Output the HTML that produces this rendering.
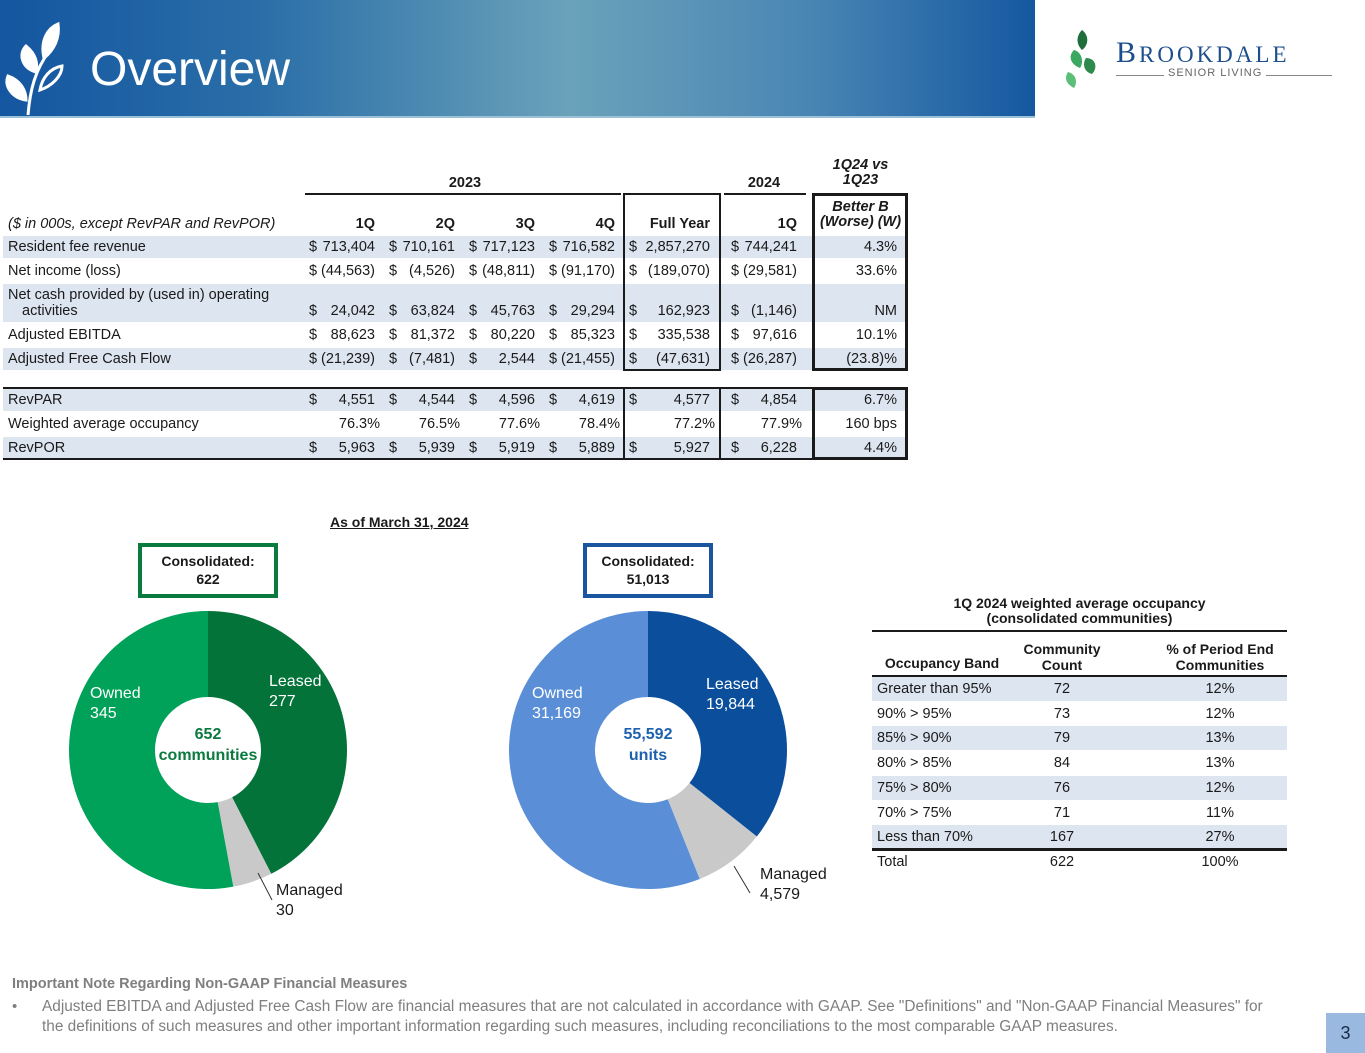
<!DOCTYPE html>
<html><head><meta charset="utf-8"><style>
*{margin:0;padding:0;box-sizing:border-box}
body{width:1365px;height:1053px;position:relative;background:#fff;font-family:"Liberation Sans",sans-serif;color:#1a1a1a;overflow:hidden;font-size:14.5px}
.a{position:absolute;white-space:nowrap}
.r{text-align:right}
.c{text-align:center}
.b{font-weight:bold}
.i{font-style:italic}
</style></head><body>
<div class="a" style="left:0;top:0;width:1035px;height:118px;background:linear-gradient(90deg,#1456a0 0%,#2a6ea8 25%,#6aa2ba 55%,#4a86b4 78%,#1558a0 100%)"></div>
<div class="a" style="left:0;top:116px;width:1035px;height:2px;background:#9cc0d8"></div>
<svg class="a" style="left:0;top:10px" width="80" height="108"><g fill="none" stroke="#fff" stroke-width="3"><path d="M28 105 C30 80 35 60 50 40"/><path d="M44 48 C40 30 48 18 58 14 C60 28 54 40 44 48Z" fill="#fff"/><path d="M36 62 C22 58 18 44 26 36 C36 44 38 54 36 62Z" fill="#fff"/><path d="M40 80 C52 76 62 66 62 56 C50 58 42 68 40 80Z"/><path d="M26 90 C12 88 4 76 8 66 C20 70 26 80 26 90Z" fill="#fff"/></g></svg>
<div class="a" style="left:90px;top:40px;font-size:48px;color:#fff;line-height:60px">Overview</div>
<svg class="a" style="left:1062px;top:28px" width="40" height="62"><g fill="#2d8a4a"><path d="M20 2 C28 8 26 18 20 22 C14 16 14 8 20 2Z" fill="#1f6e3c"/><path d="M12 22 C20 24 22 34 18 40 C8 36 6 28 12 22Z" fill="#3aa860"/><path d="M24 30 C34 30 36 40 30 46 C22 44 20 36 24 30Z" fill="#2d8a4a"/><path d="M6 44 C14 46 16 54 12 60 C4 56 2 50 6 44Z" fill="#5cbf78"/></g></svg>
<div class="a" style="left:1116px;top:36px;font-family:'Liberation Serif',serif;font-size:30px;color:#1d4e8c;letter-spacing:3px">B<span style="font-size:23px">ROOKDALE</span></div>
<div class="a" style="left:1116px;top:75px;width:216px;height:1px;background:#888"></div>
<div class="a" style="left:1164px;top:67px;background:#fff;padding:0 4px;font-size:11px;color:#666;letter-spacing:1px">SENIOR LIVING</div>

<div class="a b" style="left:330px;top:514px;font-size:14px;text-decoration:underline">As of March 31, 2024 </div>
<div class="a b c" style="left:138px;top:543px;width:140px;height:55px;border:4px solid #0a7a3e;padding-top:5px;line-height:18px;font-size:14px">Consolidated:<br>622</div>
<div class="a b c" style="left:583px;top:543px;width:130px;height:55px;border:4px solid #1a56a0;padding-top:5px;line-height:18px;font-size:14px">Consolidated:<br>51,013</div>
<svg class="a" style="left:0;top:560px" width="860" height="400" id="donuts"></svg>

<div class="a b c" style="left:872px;top:596px;width:415px;line-height:15px;font-size:14px">1Q 2024 weighted average occupancy<br>(consolidated communities)</div>

<div class="a b" style="left:12px;top:976px;font-size:14.5px;color:#7f7f7f">Important Note Regarding Non-GAAP Financial Measures</div>
<div class="a" style="left:12px;top:997px;font-size:15px;color:#7f7f7f;line-height:20px">•</div>
<div class="a" style="left:42px;top:997px;font-size:15.4px;color:#7f7f7f;line-height:20px">Adjusted EBITDA and Adjusted Free Cash Flow are financial measures that are not calculated in accordance with GAAP. See "Definitions" and "Non-GAAP Financial Measures" for<br>the definitions of such measures and other important information regarding such measures, including reconciliations to the most comparable GAAP measures.</div>
<div class="a c" style="left:1326px;top:1013px;width:39px;height:40px;background:#9ab9e0;font-size:18px;line-height:40px;color:#1a2a44">3</div>

<script>
function el(h,par){var d=document.createElement('div');d.innerHTML=h;(par||document.body).appendChild(d.firstChild);}
function box(l,t,w,h,s){el('<div class="a" style="left:'+l+'px;top:'+t+'px;width:'+w+'px;height:'+h+'px;'+s+'"></div>');}
function txt(l,t,s,cls,st){el('<div class="a '+(cls||'')+'" style="left:'+l+'px;top:'+t+'px;'+(st||'')+'">'+s+'</div>');}
[[236,22],[284,38],[348,22],[389,22],[437,22]].forEach(function(r){box(3,r[0],904,r[1],'background:#dce5f0');});
txt(300,175,'2023','b c','width:330px');
txt(724,175,'2024','b c','width:80px');
txt(813,158,'1Q24 vs<br>1Q23','b i c','width:95px;line-height:15px');
txt(813,200,'Better B<br>(Worse) (W)','b i c','width:95px;line-height:15px');
txt(8,216,'($ in 000s, except RevPAR and RevPOR)','i');
var cols=[[309,375],[389,455],[469,535],[549,615],[629,710],[731,797]];
var heads=['1Q','2Q','3Q','4Q','Full Year','1Q'];
heads.forEach(function(h,i){txt(cols[i][0],216,h,'b r','width:'+(cols[i][1]-cols[i][0])+'px');});
box(305,193,316,2,'background:#1a1a1a');
box(724,193,82,2,'background:#1a1a1a');
box(623,193,98,178,'border:2px solid #1a1a1a');
box(812,193,96,178,'border:3px solid #1a1a1a');
box(3,387,904,2,'background:#1a1a1a');
box(3,458,904,2,'background:#1a1a1a');
box(623,387,98,73,'border:2px solid #1a1a1a');
box(812,387,96,73,'border:3px solid #1a1a1a');
var rows=[
[239,'Resident fee revenue',['713,404','710,161','717,123','716,582','2,857,270','744,241'],'4.3%',1],
[263,'Net income (loss)',['(44,563)',' (4,526)','(48,811)','(91,170)','(189,070)','(29,581)'],'33.6%',1],
[303,'activities',['24,042','63,824','45,763','29,294','162,923','(1,146)'],'NM',1],
[327,'Adjusted EBITDA',['88,623','81,372','80,220','85,323','335,538','97,616'],'10.1%',1],
[351,'Adjusted Free Cash Flow',['(21,239)','(7,481)','2,544','(21,455)','(47,631)','(26,287)'],'(23.8)%',1],
[392,'RevPAR',['4,551','4,544','4,596','4,619','4,577','4,854'],'6.7%',1],
[416,'Weighted average occupancy',['76.3%','76.5%','77.6%','78.4%','77.2%','77.9%'],'160 bps',0],
[440,'RevPOR',['5,963','5,939','5,919','5,889','5,927','6,228'],'4.4%',1]];
txt(8,287,'Net cash provided by (used in) operating');
rows.forEach(function(r){
 txt(r[1]=='activities'?22:8,r[0],r[1]);
 r[2].forEach(function(v,i){
  var c=cols[i];
  if(r[4]){txt(c[0],r[0],'$');txt(c[0]+8,r[0],v,'r','width:'+(c[1]-c[0]-8)+'px');}
  else txt(c[0],r[0],v,'r','width:'+(c[1]-c[0]+5)+'px');
 });
 txt(813,r[0],r[3],'r','width:84px');
});
var o=[['Greater than 95%','72','12%'],['90% > 95%','73','12%'],['85% > 90%','79','13%'],['80% > 85%','84','13%'],['75% > 80%','76','12%'],['70% > 75%','71','11%'],['Less than 70%','167','27%'],['Total','622','100%']];
box(872,630,415,2,'background:#1a1a1a');
txt(872,655,'Occupancy Band','b c','width:140px;font-size:14px');
txt(1020,641,'Community<br>Count','b c','width:84px;font-size:14px;line-height:16px');
txt(1150,641,'% of Period End<br>Communities','b c','width:140px;font-size:14px;line-height:16px');
box(872,675,415,2,'background:#1a1a1a');
o.forEach(function(r,i){var t=677+i*24.7;
 if(i%2==0&&i<7)box(872,t,415,24,'background:#dce5f0');
 txt(877,t+4,r[0]);txt(1020,t+4,r[1],'c','width:84px');txt(1150,t+4,r[2],'c','width:140px');});
box(872,848,415,3,'background:#1a1a1a');
var ns='http://www.w3.org/2000/svg',svg=document.getElementById('donuts');
function arc(cx,cy,R,r,a0,a1,col){var p=function(a,rr){var t=(a-90)*Math.PI/180;return [cx+rr*Math.cos(t),cy+rr*Math.sin(t)];};
 var l=(a1-a0)>180?1:0,A=p(a0,R),B=p(a1,R),C=p(a1,r),D=p(a0,r);
 var e=document.createElementNS(ns,'path');e.setAttribute('d','M'+A+'A'+R+','+R+' 0 '+l+' 1 '+B+'L'+C+'A'+r+','+r+' 0 '+l+' 0 '+D+'Z');e.setAttribute('fill',col);svg.appendChild(e);}
function donut(cx,vals,cols){var tot=vals.reduce(function(a,b){return a+b}),a=0;vals.forEach(function(v,i){var b=a+v/tot*360;arc(cx,190,139,53,a,b,cols[i]);a=b;});}
donut(208,[277,30,345],['#03733a','#c9c9c9','#00a159']);
donut(648,[19844,4579,31169],['#0b4f9c','#c9c9c9','#5a8fd8']);
function ln(x1,y1,x2,y2){var e=document.createElementNS(ns,'line');e.setAttribute('x1',x1);e.setAttribute('y1',y1);e.setAttribute('x2',x2);e.setAttribute('y2',y2);e.setAttribute('stroke','#333');svg.appendChild(e);}
ln(258,313,272,340);ln(734,306,750,333);
txt(269,672,'Leased<br>277','', 'color:#fff;font-size:16px;line-height:20px');
txt(90,684,'Owned<br>345','', 'color:#fff;font-size:16px;line-height:20px');
txt(158,724,'652<br>communities','b c','color:#0a7a3e;font-size:16px;line-height:21px;width:100px');
txt(276,881,'Managed<br>30','', 'font-size:16px;line-height:20px');
txt(706,675,'Leased<br>19,844','', 'color:#fff;font-size:16px;line-height:20px');
txt(532,684,'Owned<br>31,169','', 'color:#fff;font-size:16px;line-height:20px');
txt(598,724,'55,592<br>units','b c','color:#1d61ad;font-size:16px;line-height:21px;width:100px');
txt(760,865,'Managed<br>4,579','', 'font-size:16px;line-height:20px');
</script>
</body></html>
